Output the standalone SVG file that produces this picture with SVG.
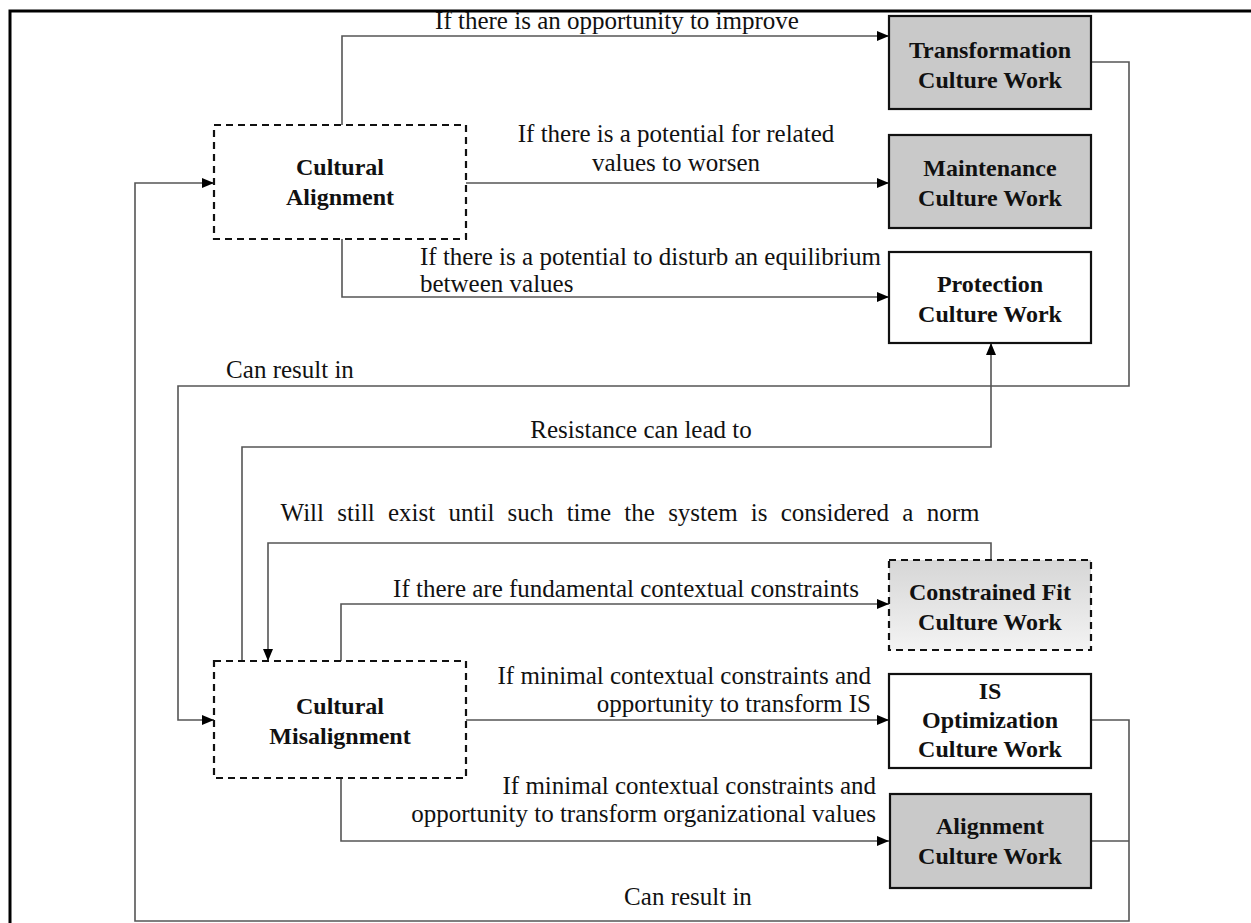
<svg xmlns="http://www.w3.org/2000/svg" width="1251" height="923" viewBox="0 0 1251 923">
<style>
.box{stroke:#111;stroke-width:2.2}
.dash{stroke-dasharray:7 5}
.bt{font-family:"Liberation Serif","Times New Roman",serif;font-weight:bold;font-size:24px;fill:#111;text-anchor:middle}
.lb{font-family:"Liberation Serif","Times New Roman",serif;font-size:25px;fill:#111;text-anchor:middle}
.cn{fill:none;stroke:#555;stroke-width:1.6}
</style>
<defs>
<marker id="ah" viewBox="0 0 12 10" refX="12" refY="5" markerWidth="12" markerHeight="10" markerUnits="userSpaceOnUse" orient="auto">
<path d="M0,0 L12,5 L0,10 Z" fill="#000"/>
</marker>
<linearGradient id="gf" x1="0" y1="0" x2="0" y2="1">
<stop offset="0" stop-color="#d6d6d6"/>
<stop offset="1" stop-color="#f3f3f3"/>
</linearGradient>
</defs>
<rect width="1251" height="923" fill="#fff"/>
<g id="frame">
<path d="M10,923 V11 H1251" fill="none" stroke="#000" stroke-width="3"/>
</g>
<g id="connectors">
<path class="cn" d="M342,125 V36 H889" marker-end="url(#ah)"/>
<path class="cn" d="M466,183 H889" marker-end="url(#ah)"/>
<path class="cn" d="M342,239 V297 H889" marker-end="url(#ah)"/>
<path class="cn" d="M1091,62 H1129 V386 H178 V720 H214" marker-end="url(#ah)"/>
<path class="cn" d="M242,661 V447 H991 V343" marker-end="url(#ah)"/>
<path class="cn" d="M991,560 V543 H268 V661" marker-end="url(#ah)"/>
<path class="cn" d="M341,661 V604 H889" marker-end="url(#ah)"/>
<path class="cn" d="M466,720 H889" marker-end="url(#ah)"/>
<path class="cn" d="M341,778 V841 H889" marker-end="url(#ah)"/>
<path class="cn" d="M1091,720 H1129 V921 H135 V183 H214" marker-end="url(#ah)"/>
<path class="cn" d="M1091,841 H1129"/>
</g>
<g id="labels">
<text class="lb" x="617" y="29">If there is an opportunity to improve</text>
<text class="lb" x="676" y="142">If there is a potential for related</text>
<text class="lb" x="676" y="171">values to worsen</text>
<text class="lb" x="420" y="265" style="text-anchor:start">If there is a potential to disturb an equilibrium</text>
<text class="lb" x="420" y="292" style="text-anchor:start">between values</text>
<text class="lb" x="290" y="378">Can result in</text>
<text class="lb" x="641" y="438">Resistance can lead to</text>
<text class="lb" x="630" y="521" style="word-spacing:7px">Will still exist until such time the system is considered a norm</text>
<text class="lb" x="626" y="597">If there are fundamental contextual constraints</text>
<text class="lb" x="871" y="684" style="text-anchor:end">If minimal contextual constraints and</text>
<text class="lb" x="871" y="712" style="text-anchor:end">opportunity to transform IS</text>
<text class="lb" x="876" y="794" style="text-anchor:end">If minimal contextual constraints and</text>
<text class="lb" x="876" y="822" style="text-anchor:end">opportunity to transform organizational values</text>
<text class="lb" x="688" y="905">Can result in</text>
</g>
<g id="cultural-alignment">
<rect class="box dash" x="214" y="125" width="252" height="114" fill="#fff"/>
<text class="bt" x="340" y="175">Cultural</text>
<text class="bt" x="340" y="205">Alignment</text>
</g>
<g id="cultural-misalignment">
<rect class="box dash" x="214" y="661" width="252" height="117" fill="#fff"/>
<text class="bt" x="340" y="714">Cultural</text>
<text class="bt" x="340" y="744">Misalignment</text>
</g>
<g id="transformation">
<rect class="box" x="889" y="16" width="202" height="93" fill="#c9c9c9"/>
<text class="bt" x="990" y="58">Transformation</text>
<text class="bt" x="990" y="88">Culture Work</text>
</g>
<g id="maintenance">
<rect class="box" x="889" y="135" width="202" height="93" fill="#c9c9c9"/>
<text class="bt" x="990" y="176">Maintenance</text>
<text class="bt" x="990" y="206">Culture Work</text>
</g>
<g id="protection">
<rect class="box" x="889" y="252" width="202" height="91" fill="#fff"/>
<text class="bt" x="990" y="292">Protection</text>
<text class="bt" x="990" y="322">Culture Work</text>
</g>
<g id="constrained-fit">
<rect class="box dash" x="889" y="560" width="202" height="90" fill="url(#gf)"/>
<text class="bt" x="990" y="600">Constrained Fit</text>
<text class="bt" x="990" y="630">Culture Work</text>
</g>
<g id="is-optimization">
<rect class="box" x="889" y="674" width="202" height="94" fill="#fff"/>
<text class="bt" x="990" y="699">IS</text>
<text class="bt" x="990" y="728">Optimization</text>
<text class="bt" x="990" y="757">Culture Work</text>
</g>
<g id="alignment">
<rect class="box" x="890" y="794" width="201" height="94" fill="#c9c9c9"/>
<text class="bt" x="990" y="834">Alignment</text>
<text class="bt" x="990" y="864">Culture Work</text>
</g>
</svg>
